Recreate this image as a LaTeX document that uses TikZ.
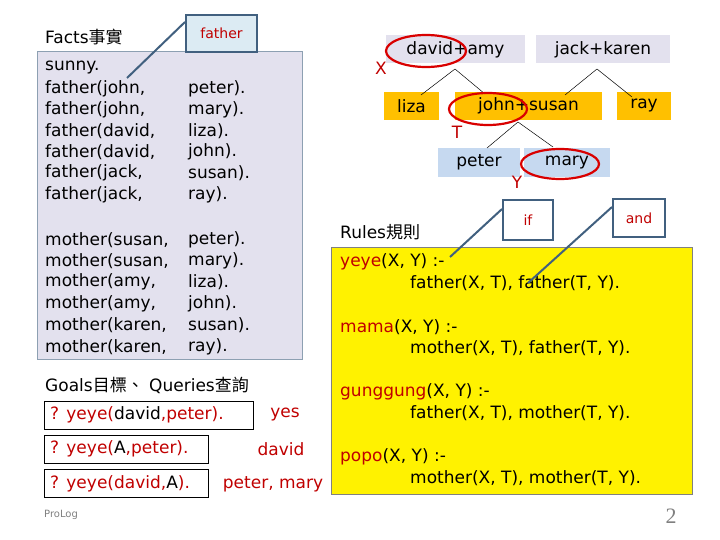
\documentclass[tikz,border=0pt]{standalone}
\usepackage{fontspec}
\setmainfont{DejaVu Sans}
\newfontfamily\cjk{Noto Sans CJK TC}
\newfontfamily\serifnum{Liberation Serif}
\definecolor{lav}{HTML}{E3E1EE}
\definecolor{org}{HTML}{FFC000}
\definecolor{lblue}{HTML}{C6D9F0}
\definecolor{dred}{HTML}{C00000}
\definecolor{callb}{HTML}{41607F}
\definecolor{callfill}{HTML}{DCEBF3}
\usetikzlibrary{shapes.geometric}
\tikzset{
 tx/.style={font=\fontsize{17}{19}\selectfont,anchor=west,inner sep=0pt},
 tb/.style={font=\fontsize{17}{19}\selectfont,inner sep=0pt},
 callout/.style={draw=callb,line width=2pt,font=\fontsize{14}{16}\selectfont,text=dred},
 callline/.style={draw=callb,line width=2pt},
 qbox/.style={draw=black,line width=0.8pt},
 rd/.style={text=dred},
 ell/.style={draw=red!85!black,line width=2.2pt,ellipse},
}
\begin{document}
\begin{tikzpicture}[x=1pt,y=-1pt]
\useasboundingbox (0,0) rectangle (720,540);
% facts
\node[tx] (facts) at (45,37) {Facts{\cjk 事實}};
\fill[lav] (37,51) rectangle (302,359);
\draw[callb!60,line width=0.8pt] (37,51) rectangle (302,359);
\foreach \a/\b/\y in {{sunny.}/{}/68, {father(john,}/{peter).}/89, {father(john,}/{mary).}/110, {father(david,}/{liza).}/131, {father(david,}/{john).}/152, {father(jack,}/{susan).}/173, {father(jack,}/{ray).}/195, {mother(susan,}/{peter).}/240, {mother(susan,}/{mary).}/261, {mother(amy,}/{liza).}/282, {mother(amy,}/{john).}/304, {mother(karen,}/{susan).}/325, {mother(karen,}/{ray).}/347}
 {\node[tx] at (45,\y) {\a}; \node[tx] at (188,\y) {\b};}
\node[callout,fill=callfill,minimum width=71pt,minimum height=37pt] (fbox) at (221.5,33.5) {father};
\coordinate (fend) at (127,78);
\draw[callline] (fbox.west|-0,22) -- (fend);
% goals
\node[tx] (goals) at (45,385) {Goals{\cjk 目標、} Queries{\cjk 查詢}};
\draw[qbox] (44,401) rectangle (253,429);
\draw[qbox] (44,435) rectangle (208,463);
\draw[qbox] (44,469) rectangle (208,497);
\node[tx,rd] (q1) at (50,415) {? yeye(\textcolor{black}{david},peter).};
\node[tx,rd] (q2) at (50,449) {? yeye(\textcolor{black}{A},peter).};
\node[tx,rd] (q3) at (50,484) {? yeye(david,\textcolor{black}{A}).};
\node[tb,rd] (a1) at (285,415) {yes};
\node[tb,rd] (a2) at (281,449) {david};
\node[tb,rd] (a3) at (273,484) {peter, mary};
\node[tx,text=gray,font=\fontsize{10}{11}\selectfont] (pl) at (44,515) {ProLog};
\node[text=gray,font=\serifnum\fontsize{22}{24}\selectfont] (pg) at (671,516) {2};
% tree
\tikzset{tn/.style={font=\fontsize{17}{19}\selectfont,inner sep=0pt,minimum height=28pt}}
\node[tn,fill=lav,minimum width=139pt] (da) at (455.5,49.5) {david+amy};
\node[tn,fill=lav,minimum width=134pt] (jk) at (603,49.5) {jack+karen};
\node[tn,fill=org,minimum width=55pt] (liza) at (411.5,106) {liza};
\node[tn,fill=org,minimum width=147pt] (js) at (528.5,106) {john+susan};
\node[tn,fill=org,minimum width=54pt] (ray) at (644,106) {ray};
\node[tn,fill=lblue,minimum width=82pt,minimum height=29pt] (peter) at (479,162.5) {peter};
\node[tn,fill=lblue,minimum width=86pt,minimum height=29pt] (mary) at (567,162.5) {mary};
\coordinate (p1) at (455,69); \coordinate (p2) at (597,69); \coordinate (p3) at (518,122);
\draw[black,line width=0.5pt] (p1) -- (421,95) (p1) -- (485,94);
\draw[black,line width=0.5pt] (p2) -- (565,95) (p2) -- (632,97);
\draw[black,line width=0.5pt] (p3) -- (487,148) (p3) -- (553,147);
\node[ell,minimum width=80pt,minimum height=32pt] (e1) at (426,51) {};
\node[ell,minimum width=78pt,minimum height=32pt] (e2) at (488,109) {};
\node[ell,minimum width=78pt,minimum height=30pt] (e3) at (560,164) {};
\node[tb,rd] (X) at (381,68) {X};
\node[tb,rd] (T) at (457,132) {T};
\node[tb,rd] (Y) at (517,182) {Y};
% rules
\node[tx] (rules) at (340,232) {Rules{\cjk 規則}};
\fill[yellow] (331,247) rectangle (692,494);
\draw[gray,line width=0.8pt] (331,247) rectangle (692,494);
\node[tx] (r1) at (340,262) {\textcolor{dred}{yeye}(X, Y) :-};
\node[tx] (r2) at (410,283) {father(X, T), father(T, Y).};
\node[tx] (r3) at (340,327) {\textcolor{dred}{mama}(X, Y) :-};
\node[tx] (r4) at (410,348) {mother(X, T), father(T, Y).};
\node[tx] (r5) at (340,392) {\textcolor{dred}{gunggung}(X, Y) :-};
\node[tx] (r6) at (410,413) {father(X, T), mother(T, Y).};
\node[tx] (r7) at (340,457) {\textcolor{dred}{popo}(X, Y) :-};
\node[tx] (r8) at (410,478) {mother(X, T), mother(T, Y).};
\node[callout,fill=white,minimum width=50pt,minimum height=40pt] (ifb) at (528,220) {if};
\node[callout,fill=white,minimum width=52pt,minimum height=38pt] (andb) at (639,218) {and};
\coordinate (ie) at (450,257); \coordinate (ae) at (528,283);
\draw[callline] (ifb.west|-0,209) -- (ie);
\draw[callline] (andb.west|-0,207) -- (ae);
\end{tikzpicture}
\end{document}
